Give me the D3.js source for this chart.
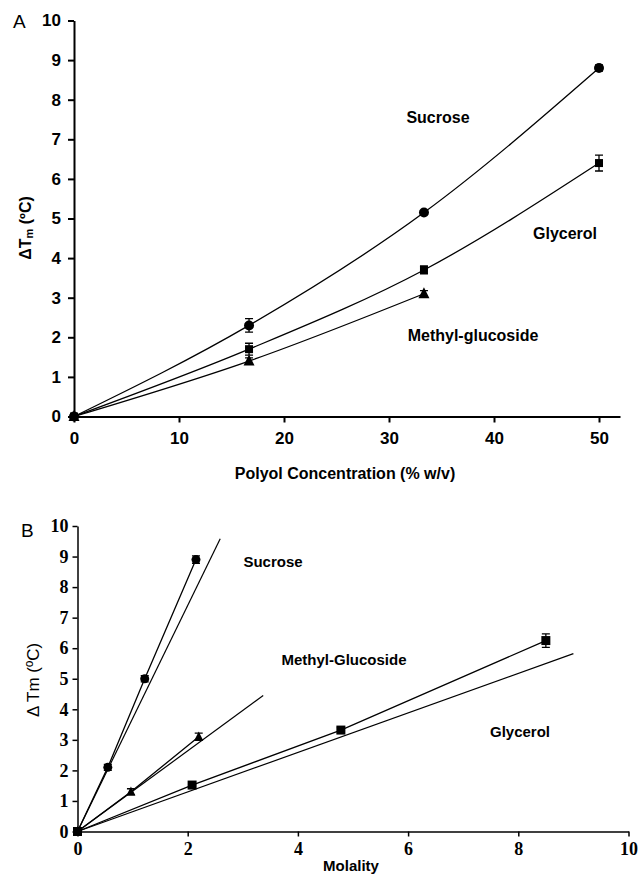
<!DOCTYPE html>
<html>
<head>
<meta charset="utf-8">
<script src="https://cdn.jsdelivr.net/npm/d3@7"></script>
<style>
  body { margin: 0; background: #fff; }
  svg { display: block; }
</style>
</head>
<body>
<svg id="chart" width="639" height="883"></svg>
<script>
// Panel A: % w/v concentration
const concA = [0, 16.67, 33.33, 50];
const sucroseA = [0, 2.3, 5.15, 8.8];
const sucroseAErr = [0.05, 0.17, 0.06, 0.08];
const glycerolA = [0, 1.7, 3.7, 6.4];
const glycerolAErr = [0.05, 0.15, 0.1, 0.2];
const methylConcA = [0, 16.67, 33.33];
const methylA = [0, 1.4, 3.1];
const methylAErr = [0.05, 0.08, 0.08];
const ticksAX = [0, 10, 20, 30, 40, 50];
const ticksY = [0, 1, 2, 3, 4, 5, 6, 7, 8, 9, 10];

// Panel B: molality
const sucroseMolal = [0, 0.55, 1.22, 2.15];
const sucroseB = [0, 2.1, 5.0, 8.9];
const sucroseBErr = [0.05, 0.1, 0.1, 0.12];
const methylMolal = [0, 0.97, 2.2];
const methylB = [0, 1.3, 3.1];
const methylBErr = [0.05, 0.1, 0.12];
const glycerolMolal = [0, 2.08, 4.78, 8.5];
const glycerolB = [0, 1.52, 3.32, 6.25];
const glycerolBErr = [0.05, 0.05, 0.08, 0.22];
// linear fits through origin: slope, last x
const fitSlopes = [3.7, 1.32, 0.647];
const fitEnds = [2.59, 3.37, 9.0];
const ticksBX = [0, 2, 4, 6, 8, 10];

const sans = "'Liberation Sans', Arial, sans-serif";
const serif = "'Liberation Serif', 'Times New Roman', serif";

const svg = d3.select("#chart");

function zip(xs, ys, es) {
  return xs.map((x, i) => ({ x, y: ys[i], e: es[i] }));
}

function drawMarker(g, shape, cx, cy, size) {
  if (shape === "circle") {
    g.append("circle").attr("cx", cx).attr("cy", cy).attr("r", size / 2).attr("fill", "#000");
  } else if (shape === "square") {
    g.append("rect").attr("x", cx - size / 2).attr("y", cy - size / 2)
      .attr("width", size).attr("height", size).attr("fill", "#000");
  } else {
    g.append("path")
      .attr("d", `M${cx},${cy - size * 0.6}L${cx + size / 2},${cy + size * 0.4}L${cx - size / 2},${cy + size * 0.4}Z`)
      .attr("fill", "#000");
  }
}

function drawSeries(g, x, y, pts, shape, size, curve) {
  const line = d3.line().x(d => x(d.x)).y(d => y(d.y)).curve(curve);
  g.append("path").datum(pts).attr("d", line)
    .attr("fill", "none").attr("stroke", "#000").attr("stroke-width", 1.3);
  pts.forEach(d => {
    if (d.e > 0.06) {
      const y0 = y(d.y - d.e), y1 = y(d.y + d.e), cx = x(d.x);
      g.append("path")
        .attr("d", `M${cx},${y0}V${y1}M${cx - 4},${y0}H${cx + 4}M${cx - 4},${y1}H${cx + 4}`)
        .attr("stroke", "#000").attr("stroke-width", 1.3).attr("fill", "none");
    }
    drawMarker(g, shape, x(d.x), y(d.y), size);
  });
}

function styleAxis(g, width, font, size) {
  g.attr("font-family", font).attr("font-size", size).attr("font-weight", "bold");
  g.selectAll("path.domain").attr("stroke", "#000").attr("stroke-width", width);
  g.selectAll(".tick line").attr("stroke", "#000").attr("stroke-width", width);
  g.selectAll(".tick text").attr("fill", "#000");
}

// ---------- Panel A ----------
const xA = d3.scaleLinear().domain([0, 52]).range([74, 620]);
const yA = d3.scaleLinear().domain([0, 10]).range([416.5, 20.5]);
const gA = svg.append("g");

const axAX = gA.append("g").attr("transform", `translate(0,${yA(0)})`)
  .call(d3.axisBottom(xA).tickValues(ticksAX).tickSize(6).tickSizeOuter(0).tickPadding(9));
styleAxis(axAX, 2, sans, 17);
const axAY = gA.append("g").attr("transform", `translate(${xA(0)},0)`)
  .call(d3.axisLeft(yA).tickValues(ticksY).tickSize(6).tickSizeOuter(0).tickPadding(7));
styleAxis(axAY, 2, sans, 17);

drawSeries(gA, xA, yA, zip(concA, sucroseA, sucroseAErr), "circle", 10, d3.curveMonotoneX);
drawSeries(gA, xA, yA, zip(concA, glycerolA, glycerolAErr), "square", 8, d3.curveMonotoneX);
drawSeries(gA, xA, yA, zip(methylConcA, methylA, methylAErr), "triangle", 11, d3.curveMonotoneX);

gA.append("text").attr("x", 13).attr("y", 28).text("A")
  .attr("font-family", sans).attr("font-size", 19);

const labelsA = ["Sucrose", "Glycerol", "Methyl-glucoside"];
const labelPosA = [[438, 123], [565, 239], [473, 341]];
labelsA.forEach((name, i) => gA.append("text")
  .attr("x", labelPosA[i][0]).attr("y", labelPosA[i][1]).text(name)
  .attr("text-anchor", "middle").attr("font-family", sans).attr("font-size", 16).attr("font-weight", "bold"));

gA.append("text").attr("x", 345).attr("y", 479).text("Polyol Concentration (% w/v)")
  .attr("text-anchor", "middle").attr("font-family", sans).attr("font-size", 16).attr("font-weight", "bold");

const titleA = gA.append("text").attr("transform", "translate(31,228) rotate(-90)")
  .attr("text-anchor", "middle").attr("font-family", sans).attr("font-size", 16).attr("font-weight", "bold");
titleA.append("tspan").text("\u0394T");
titleA.append("tspan").text("m").attr("font-size", 11).attr("dy", 2);
titleA.append("tspan").text(" (\u00baC)").attr("dy", -2);

// ---------- Panel B ----------
const xB = d3.scaleLinear().domain([0, 10]).range([77.5, 628.5]);
const yB = d3.scaleLinear().domain([0, 10]).range([831.5, 526]);
const gB = svg.append("g");

const axBX = gB.append("g").attr("transform", `translate(0,${yB(0)})`)
  .call(d3.axisBottom(xB).tickValues(ticksBX).tickSize(5).tickSizeOuter(0).tickPadding(6));
styleAxis(axBX, 1.5, serif, 18);
const axBY = gB.append("g").attr("transform", `translate(${xB(0)},0)`)
  .call(d3.axisLeft(yB).tickValues(ticksY).tickSize(5).tickSizeOuter(0).tickPadding(4));
styleAxis(axBY, 1.5, serif, 18);

// linear fits through the origin
fitSlopes.forEach((s, i) => {
  const pts = [{ x: 0, y: 0 }, { x: fitEnds[i], y: s * fitEnds[i] }];
  gB.append("path").datum(pts)
    .attr("d", d3.line().x(d => xB(d.x)).y(d => yB(d.y)))
    .attr("stroke", "#000").attr("stroke-width", 1.2).attr("fill", "none");
});

drawSeries(gB, xB, yB, zip(sucroseMolal, sucroseB, sucroseBErr), "circle", 9, d3.curveLinear);
drawSeries(gB, xB, yB, zip(methylMolal, methylB, methylBErr), "triangle", 9, d3.curveLinear);
drawSeries(gB, xB, yB, zip(glycerolMolal, glycerolB, glycerolBErr), "square", 9, d3.curveLinear);

gB.append("text").attr("x", 21).attr("y", 537).text("B")
  .attr("font-family", sans).attr("font-size", 19);

const labelsB = ["Sucrose", "Methyl-Glucoside", "Glycerol"];
const labelPosB = [[273, 567], [344, 665], [520, 737]];
labelsB.forEach((name, i) => gB.append("text")
  .attr("x", labelPosB[i][0]).attr("y", labelPosB[i][1]).text(name)
  .attr("text-anchor", "middle").attr("font-family", sans).attr("font-size", 15).attr("font-weight", "bold"));

gB.append("text").attr("x", 351).attr("y", 871).text("Molality")
  .attr("text-anchor", "middle").attr("font-family", sans).attr("font-size", 15).attr("font-weight", "bold");

gB.append("text").attr("transform", "translate(39,680) rotate(-90)")
  .attr("text-anchor", "middle").attr("font-family", sans).attr("font-size", 17)
  .text("\u0394 Tm (\u00baC)");
</script>
</body>
</html>
